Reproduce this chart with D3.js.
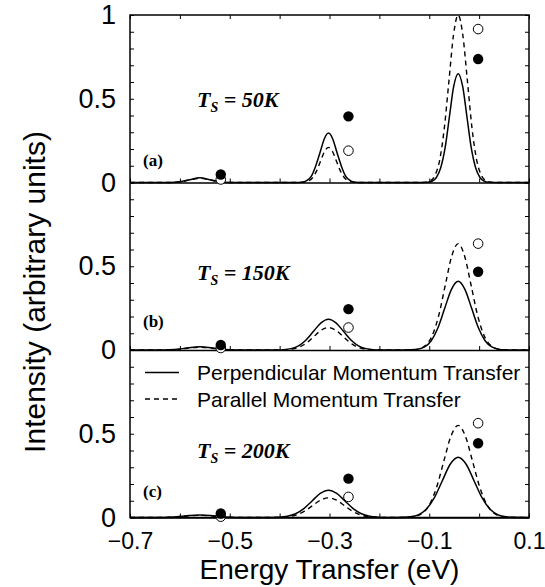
<!DOCTYPE html>
<html><head><meta charset="utf-8">
<script src="https://cdn.jsdelivr.net/npm/d3@7"></script>
<style>
body{margin:0;background:#fff;}
svg{display:block;}
</style></head>
<body><svg id="chart" width="545" height="587"></svg>
<script>
// ---------- DATA ----------
const energyDomain = [-0.7, 0.1];
const energyTicks = [-0.7,-0.6,-0.5,-0.4,-0.3,-0.2,-0.1,0.0,0.1];
const energyLabelTicks = [-0.7,-0.5,-0.3,-0.1,0.1];
const energyLabels = ["\u22120.7","\u22120.5","\u22120.3","\u22120.1","0.1"];
const intensityTicks = [0,0.1,0.2,0.3,0.4,0.5,0.6,0.7,0.8,0.9,1.0];
const panelNames = ["(a)","(b)","(c)"];
const panelTemps = ["50K","150K","200K"];
const panelLabelTicks = [[0,0.5,1],[0,0.5],[0,0.5]];

// calculated curves [energy, intensity]
const perpA = [[-0.7,0],[-0.62,0.0003],[-0.60,0.0038],[-0.58,0.017],[-0.56,0.028],[-0.54,0.017],[-0.52,0.0038],[-0.50,0.0003],[-0.48,0],
 [-0.38,0],[-0.362,0.0006],[-0.353,0.0033],[-0.345,0.013],[-0.336,0.040],[-0.328,0.096],[-0.319,0.179],[-0.3105,0.260],[-0.302,0.295],
 [-0.2935,0.260],[-0.285,0.179],[-0.276,0.096],[-0.268,0.040],[-0.259,0.013],[-0.251,0.0033],[-0.242,0.0006],[-0.22,0],
 [-0.12,0],[-0.103,0.0014],[-0.0945,0.0072],[-0.086,0.0285],[-0.077,0.088],[-0.068,0.211],[-0.0595,0.394],[-0.051,0.574],[-0.042,0.65],
 [-0.033,0.574],[-0.0245,0.394],[-0.016,0.211],[-0.007,0.088],[0.002,0.0285],[0.0105,0.0072],[0.019,0.0014],[0.04,0],[0.1,0]];
const paraA = [[-0.7,0],[-0.62,0.0003],[-0.60,0.0034],[-0.58,0.0152],[-0.56,0.025],[-0.54,0.0152],[-0.52,0.0034],[-0.50,0.0003],[-0.48,0],
 [-0.38,0],[-0.358,0.0005],[-0.350,0.0023],[-0.342,0.0092],[-0.334,0.028],[-0.326,0.068],[-0.318,0.127],[-0.310,0.185],[-0.302,0.21],
 [-0.294,0.185],[-0.286,0.127],[-0.278,0.068],[-0.270,0.028],[-0.262,0.0092],[-0.254,0.0023],[-0.246,0.0005],[-0.22,0],
 [-0.125,0],[-0.1068,0.0022],[-0.0975,0.0111],[-0.0883,0.0439],[-0.079,0.135],[-0.0698,0.325],[-0.0605,0.607],[-0.0513,0.8825],[-0.042,1.0],
 [-0.0328,0.8825],[-0.0235,0.607],[-0.0143,0.325],[-0.005,0.135],[0.0043,0.0439],[0.0135,0.0111],[0.0228,0.0022],[0.04,0],[0.1,0]];
const perpB = [[-0.7,0],[-0.635,0.0002],[-0.61,0.0027],[-0.585,0.0121],[-0.56,0.02],[-0.535,0.0121],[-0.51,0.0027],[-0.485,0.0002],[-0.46,0],
 [-0.42,0],[-0.407,0.0004],[-0.392,0.002],[-0.377,0.0081],[-0.362,0.0249],[-0.347,0.0597],[-0.332,0.1116],[-0.317,0.1624],[-0.302,0.184],
 [-0.287,0.1624],[-0.272,0.1116],[-0.257,0.0597],[-0.242,0.0249],[-0.227,0.0081],[-0.212,0.002],[-0.197,0.0004],[-0.18,0],
 [-0.15,0],[-0.1365,0.0009],[-0.123,0.0046],[-0.1095,0.018],[-0.096,0.0555],[-0.0825,0.133],[-0.069,0.249],[-0.0555,0.362],[-0.042,0.41],
 [-0.0285,0.362],[-0.015,0.249],[-0.0015,0.133],[0.012,0.0555],[0.0255,0.018],[0.039,0.0046],[0.0525,0.0009],[0.07,0],[0.1,0]];
const paraB = [[-0.7,0],[-0.635,0.0002],[-0.61,0.0023],[-0.585,0.0103],[-0.56,0.017],[-0.535,0.0103],[-0.51,0.0023],[-0.485,0.0002],[-0.46,0],
 [-0.42,0],[-0.4035,0.0003],[-0.389,0.0015],[-0.3745,0.0059],[-0.360,0.0181],[-0.3455,0.0435],[-0.331,0.0813],[-0.3165,0.1183],[-0.302,0.134],
 [-0.2875,0.1183],[-0.273,0.0813],[-0.2585,0.0435],[-0.244,0.0181],[-0.2295,0.0059],[-0.215,0.0015],[-0.2005,0.0003],[-0.18,0],
 [-0.15,0],[-0.133,0.0014],[-0.120,0.0070],[-0.107,0.0279],[-0.094,0.0859],[-0.081,0.206],[-0.068,0.385],[-0.055,0.560],[-0.042,0.635],
 [-0.029,0.560],[-0.016,0.385],[-0.003,0.206],[0.010,0.0859],[0.023,0.0279],[0.036,0.0070],[0.049,0.0014],[0.07,0],[0.1,0]];
const perpC = [[-0.7,0],[-0.65,0.0002],[-0.62,0.002],[-0.59,0.0091],[-0.56,0.015],[-0.53,0.0091],[-0.50,0.002],[-0.47,0.0002],[-0.45,0],
 [-0.43,0],[-0.4175,0.0004],[-0.401,0.0018],[-0.3845,0.0072],[-0.368,0.0221],[-0.3515,0.0529],[-0.335,0.0989],[-0.3185,0.1438],[-0.302,0.163],
 [-0.2855,0.1438],[-0.269,0.0989],[-0.2525,0.0529],[-0.236,0.0221],[-0.2195,0.0072],[-0.203,0.0018],[-0.1865,0.0004],[-0.17,0],
 [-0.165,0],[-0.154,0.0008],[-0.138,0.004],[-0.122,0.0158],[-0.106,0.0487],[-0.090,0.117],[-0.074,0.218],[-0.058,0.318],[-0.042,0.36],
 [-0.026,0.318],[-0.010,0.218],[0.006,0.117],[0.022,0.0487],[0.038,0.0158],[0.054,0.004],[0.070,0.0008],[0.085,0],[0.1,0]];
const paraC = [[-0.7,0],[-0.65,0.0001],[-0.62,0.0018],[-0.59,0.0079],[-0.56,0.013],[-0.53,0.0079],[-0.50,0.0018],[-0.47,0.0001],[-0.45,0],
 [-0.43,0],[-0.414,0.0003],[-0.398,0.0013],[-0.382,0.0051],[-0.366,0.0158],[-0.350,0.038],[-0.334,0.071],[-0.318,0.1033],[-0.302,0.117],
 [-0.286,0.1033],[-0.270,0.071],[-0.254,0.038],[-0.238,0.0158],[-0.222,0.0051],[-0.206,0.0013],[-0.190,0.0003],[-0.17,0],
 [-0.16,0],[-0.1435,0.0012],[-0.129,0.0061],[-0.1145,0.0241],[-0.100,0.0744],[-0.0855,0.1786],[-0.071,0.3336],[-0.0565,0.4854],[-0.042,0.55],
 [-0.0275,0.4854],[-0.013,0.3336],[0.0015,0.1786],[0.016,0.0744],[0.0305,0.0241],[0.045,0.0061],[0.0595,0.0012],[0.08,0],[0.1,0]];

// measured points
const dotEnergy = [-0.518, -0.262, -0.002];
const filledA = [0.048, 0.395, 0.737];
const openA   = [0.018, 0.19, 0.916];
const filledB = [0.03, 0.244, 0.467];
const openB   = [0.012, 0.134, 0.635];
const filledC = [0.024, 0.232, 0.443];
const openC   = [0.005, 0.123, 0.563];

const legendLabels = ["Perpendicular Momentum Transfer","Parallel Momentum Transfer"];
const xTitle = "Energy Transfer (eV)";
const yTitle = "Intensity (arbitrary units)";

// ---------- LAYOUT ----------
const L = 130, R = 529, T = 15, PH = 167.5;
const panels = [
  {name:panelNames[0], temp:panelTemps[0], perp:perpA, para:paraA, filled:filledA, open:openA, labels:panelLabelTicks[0], tY:107, nY:166},
  {name:panelNames[1], temp:panelTemps[1], perp:perpB, para:paraB, filled:filledB, open:openB, labels:panelLabelTicks[1], tY:280, nY:327},
  {name:panelNames[2], temp:panelTemps[2], perp:perpC, para:paraC, filled:filledC, open:openC, labels:panelLabelTicks[2], tY:458, nY:497}
];

const svg = d3.select("#chart");
const x = d3.scaleLinear().domain(energyDomain).range([L, R]);
const sansFont = "'Liberation Sans', Arial, Helvetica, sans-serif";
const serifFont = "'Liberation Serif', 'Times New Roman', serif";

panels.forEach((p, i) => {
  const top = T + i*PH;
  const y = d3.scaleLinear().domain([0,1]).range([top+PH, top]);
  const g = svg.append("g");

  // inward ticks left/right
  g.append("g").attr("transform",`translate(${L},0)`)
    .call(d3.axisLeft(y).tickValues(intensityTicks).tickSize(-4).tickSizeOuter(0).tickFormat(""))
    .call(s=>s.select(".domain").remove());
  g.append("g").attr("transform",`translate(${R},0)`)
    .call(d3.axisRight(y).tickValues(intensityTicks).tickSize(-4).tickSizeOuter(0).tickFormat(""))
    .call(s=>s.select(".domain").remove());
  // tick labels
  g.append("g").attr("transform",`translate(${L},0)`)
    .call(d3.axisLeft(y).tickValues(p.labels).tickSize(0).tickPadding(14).tickFormat(d3.format("~g")))
    .call(s=>s.select(".domain").remove())
    .call(s=>s.selectAll("text").attr("font-family",sansFont).attr("font-size",27).attr("fill","#000"));

  // zero line with upward ticks
  g.append("g").attr("transform",`translate(0,${y(0)})`)
    .call(d3.axisBottom(x).tickValues(energyTicks).tickSize(-4).tickSizeOuter(0).tickFormat(""))
    .call(s=>s.select(".domain").attr("stroke","#000").attr("stroke-width",1.3));

  // curves
  const line = d3.line().x(d=>x(d[0])).y(d=>y(d[1])).curve(d3.curveMonotoneX);
  g.append("path").datum(p.perp).attr("d",line).attr("fill","none").attr("stroke","#000").attr("stroke-width",1.5);
  g.append("path").datum(p.para).attr("d",line).attr("fill","none").attr("stroke","#000").attr("stroke-width",1.4).attr("stroke-dasharray","5,4");

  // points
  g.selectAll(".open").data(dotEnergy.map((e,k)=>[e,p.open[k]])).join("circle")
    .attr("cx",d=>x(d[0])).attr("cy",d=>y(d[1])).attr("r",4.8)
    .attr("fill","#fff").attr("stroke","#000").attr("stroke-width",1);
  g.selectAll(".filled").data(dotEnergy.map((e,k)=>[e,p.filled[k]])).join("circle")
    .attr("cx",d=>x(d[0])).attr("cy",d=>y(d[1])).attr("r",5.2)
    .attr("fill","#000");

  // panel letter
  g.append("text").attr("x",143).attr("y",p.nY).attr("font-family",serifFont)
    .attr("font-weight","bold").attr("font-size",17).text(p.name);
  // temperature label
  const t = g.append("text").attr("x",197).attr("y",p.tY).attr("font-family",serifFont)
    .attr("font-weight","bold").attr("font-style","italic").attr("font-size",22);
  t.append("tspan").text("T");
  t.append("tspan").attr("font-size",14).attr("dy",5).text("S");
  t.append("tspan").attr("dy",-5).text(" = " + p.temp);
});

// top ticks and bottom labels
svg.append("g").attr("transform",`translate(0,${T})`)
  .call(d3.axisTop(x).tickValues(energyTicks).tickSize(-4).tickSizeOuter(0).tickFormat(""))
  .call(s=>s.select(".domain").remove());
svg.append("g").attr("transform",`translate(0,${T+3*PH})`)
  .call(d3.axisBottom(x).tickValues(energyLabelTicks).tickSize(0).tickPadding(15)
        .tickFormat((d,k)=>energyLabels[k]))
  .call(s=>s.select(".domain").remove())
  .call(s=>s.selectAll("text").attr("font-family",sansFont).attr("font-size",23).attr("fill","#000"));

// frame
svg.append("rect").attr("x",L).attr("y",T).attr("width",R-L).attr("height",3*PH)
  .attr("fill","none").attr("stroke","#000").attr("stroke-width",1.5);

// legend
const legY = [372.5, 399];
legendLabels.forEach((lab,k)=>{
  svg.append("line").attr("x1",145).attr("x2",179).attr("y1",legY[k]).attr("y2",legY[k])
    .attr("stroke","#000").attr("stroke-width",1.3).attr("stroke-dasharray",k===1?"5,4":null);
  svg.append("text").attr("x",197).attr("y",legY[k]).attr("dy","0.36em")
    .attr("font-family",sansFont).attr("font-size",21).text(lab);
});

// axis titles
svg.append("text").attr("x",(L+R)/2).attr("y",579).attr("text-anchor","middle")
  .attr("font-family",sansFont).attr("font-size",28).text(xTitle);
svg.append("text").attr("transform","translate(45,292) rotate(-90)").attr("text-anchor","middle")
  .attr("font-family",sansFont).attr("font-size",30).text(yTitle);
</script></body></html>
